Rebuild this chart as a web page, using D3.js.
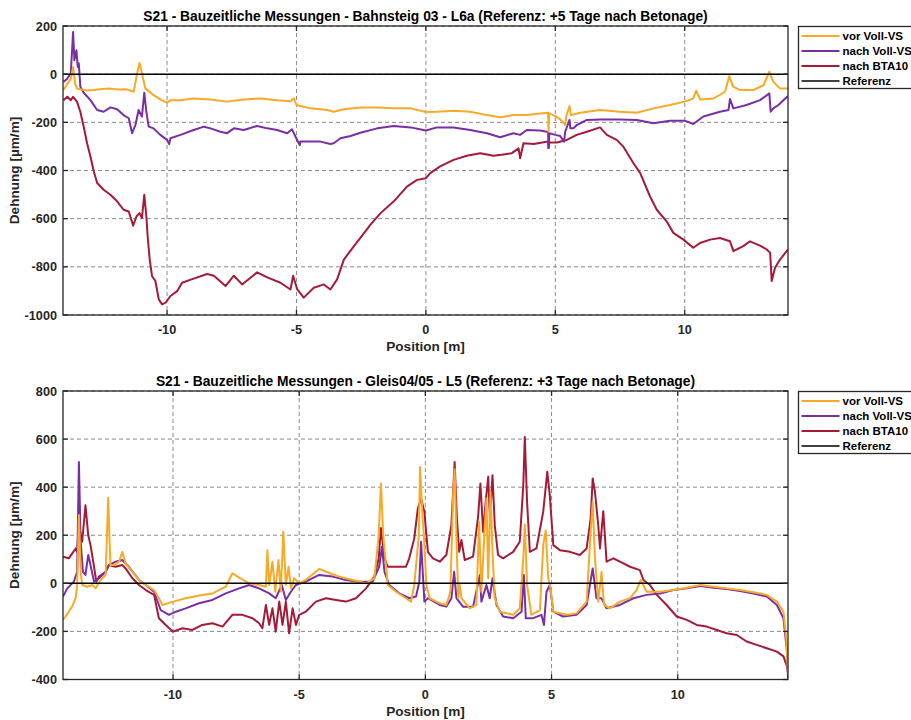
<!DOCTYPE html>
<html>
<head>
<meta charset="utf-8">
<script src="https://cdn.jsdelivr.net/npm/d3@7"></script>
<style>
  body { margin: 0; background: #fff; }
  svg { display: block; font-family: "Liberation Sans", Arial, Helvetica, sans-serif; }
  .tick-label { font-size: 12.7px; font-weight: bold; fill: #262626; }
  .ax-label { font-size: 13.6px; font-weight: bold; fill: #262626; }
  .title { font-size: 13.8px; font-weight: bold; fill: #000; }
  .legend-text { font-size: 11.5px; font-weight: bold; fill: #000; }
</style>
</head>
<body>
<script>
// legend names + colours
var seriesNames = ["vor Voll-VS", "nach Voll-VS", "nach BTA10", "Referenz"];
var seriesColors = ["#F8A926", "#7A2EA5", "#A51B37", "#000000"];

var titles = [
    "S21 - Bauzeitliche Messungen - Bahnsteig 03 - L6a (Referenz: +5 Tage nach Betonage)",
    "S21 - Bauzeitliche Messungen - Gleis04/05 - L5 (Referenz: +3 Tage nach Betonage)"
];

var xTicks = [-10, -5, 0, 5, 10];
var topYTicks = [-1000, -800, -600, -400, -200, 0, 200];
var bottomYTicks = [-400, -200, 0, 200, 400, 600, 800];
var topXDomain = [-14.02, 13.99];
var bottomXDomain = [-14.36, 14.37];

// ---- top panel (Bahnsteig 03 - L6a), [position m, strain µm/m]
var topVor = [[-14.0,-66],[-13.85,-39],[-13.72,-20],[-13.63,30],[-13.55,-40],[-13.48,-60],[-13.35,-63],[-13.1,-68],[-12.83,-66],[-12.5,-62],[-12.19,-60],[-11.9,-64],[-11.55,-63],[-11.29,-73],[-11.13,17],[-11.06,47],[-10.97,3],[-10.84,-59],[-10.52,-87],[-10.26,-105],[-10.0,-119],[-9.87,-108],[-9.48,-108],[-8.97,-101],[-8.32,-105],[-7.68,-114],[-7.04,-105],[-6.39,-101],[-5.75,-108],[-5.23,-112],[-5.1,-100],[-5.0,-128],[-4.85,-132],[-4.46,-142],[-3.81,-149],[-3.56,-156],[-3.17,-146],[-2.53,-138],[-1.88,-138],[-1.24,-142],[-0.59,-142],[0,-157],[0.42,-156],[1.07,-152],[1.71,-156],[2.36,-170],[2.87,-179],[3.38,-170],[3.9,-170],[4.41,-163],[4.72,-160],[4.74,-239],[4.76,-163],[5.0,-174],[5.19,-188],[5.38,-211],[5.42,-176],[5.55,-132],[5.6,-170],[5.96,-160],[6.73,-149],[7.5,-156],[8.15,-160],[8.79,-142],[9.43,-128],[10,-114],[10.33,-101],[10.44,-69],[10.6,-105],[11.11,-101],[11.56,-73],[11.72,-8],[11.87,-52],[12.14,-66],[12.65,-66],[13.04,-46],[13.27,10],[13.42,-32],[13.68,-59],[13.99,-59]];
var topNachVS = [[-14.0,-32],[-13.85,-18],[-13.72,3],[-13.63,175],[-13.58,58],[-13.5,99],[-13.45,30],[-13.41,44],[-13.35,-52],[-13.22,-77],[-12.96,-108],[-12.7,-149],[-12.45,-156],[-12.19,-138],[-11.93,-146],[-11.68,-170],[-11.48,-183],[-11.35,-245],[-11.22,-211],[-11.1,-149],[-10.97,-176],[-10.88,-77],[-10.8,-156],[-10.71,-218],[-10.52,-225],[-10.26,-252],[-10.0,-273],[-9.92,-290],[-9.87,-266],[-9.48,-252],[-8.97,-232],[-8.58,-218],[-8.32,-225],[-7.94,-239],[-7.68,-245],[-7.42,-225],[-7.04,-232],[-6.52,-215],[-6.13,-225],[-5.75,-232],[-5.36,-245],[-5.17,-229],[-5.04,-259],[-4.87,-295],[-4.85,-280],[-4.46,-280],[-4.07,-280],[-3.69,-290],[-3.56,-287],[-3.3,-266],[-2.91,-257],[-2.53,-243],[-1.88,-225],[-1.24,-215],[-0.59,-221],[0,-234],[0.42,-221],[1.07,-221],[1.71,-232],[2.36,-245],[2.87,-262],[3.38,-245],[3.64,-252],[3.9,-232],[4.41,-234],[4.72,-240],[4.74,-307],[4.77,-245],[5.0,-252],[5.19,-257],[5.34,-280],[5.38,-239],[5.55,-190],[5.58,-225],[5.7,-225],[5.83,-211],[6.22,-190],[6.73,-188],[7.5,-188],[8.15,-190],[8.79,-204],[9.43,-193],[10,-193],[10.33,-207],[10.72,-176],[11.36,-156],[11.69,-149],[11.75,-103],[11.88,-142],[12.39,-128],[12.91,-108],[13.27,-80],[13.32,-156],[13.42,-142],[13.62,-128],[13.81,-108],[13.99,-91]];
var topNachBTA = [[-14.0,-108],[-13.85,-94],[-13.72,-108],[-13.63,-94],[-13.48,-114],[-13.35,-156],[-13.22,-218],[-13.09,-287],[-12.96,-342],[-12.83,-404],[-12.7,-452],[-12.45,-480],[-12.19,-501],[-11.93,-528],[-11.68,-563],[-11.48,-570],[-11.31,-629],[-11.18,-590],[-11.06,-577],[-10.97,-597],[-10.88,-501],[-10.8,-590],[-10.75,-673],[-10.67,-770],[-10.58,-839],[-10.45,-859],[-10.32,-935],[-10.19,-956],[-10.06,-949],[-9.87,-921],[-9.61,-901],[-9.42,-866],[-8.97,-849],[-8.45,-830],[-8.19,-837],[-7.74,-880],[-7.42,-837],[-7.1,-873],[-6.52,-823],[-6.13,-844],[-5.62,-866],[-5.23,-894],[-5.13,-837],[-4.97,-894],[-4.72,-928],[-4.33,-887],[-3.94,-873],[-3.69,-894],[-3.43,-852],[-3.17,-770],[-2.78,-714],[-2.53,-680],[-2.14,-625],[-1.75,-577],[-1.24,-528],[-0.72,-466],[-0.34,-439],[0,-432],[0.17,-411],[0.55,-383],[1.07,-356],[1.58,-339],[2.1,-328],[2.61,-339],[2.93,-335],[3.32,-328],[3.58,-308],[3.64,-349],[3.77,-287],[4.16,-290],[4.72,-280],[4.74,-307],[4.77,-284],[5.06,-284],[5.44,-273],[5.83,-252],[6.22,-239],[6.73,-221],[6.99,-252],[7.37,-273],[7.63,-301],[8.02,-370],[8.28,-411],[8.66,-508],[8.92,-563],[9.3,-611],[9.56,-659],[9.95,-687],[10.33,-721],[10.59,-701],[10.98,-687],[11.36,-680],[11.75,-694],[11.88,-735],[12.26,-714],[12.52,-694],[12.91,-712],[13.17,-728],[13.3,-742],[13.36,-859],[13.49,-804],[13.68,-770],[13.99,-728]];

// ---- bottom panel (Gleis04/05 - L5)
var botVor = [[-14.36,-152],[-14.26,-138],[-14.0,-97],[-13.86,-62],[-13.8,-7],[-13.73,284],[-13.66,48],[-13.6,-7],[-13.4,-14],[-13.2,-7],[-13.07,-21],[-12.87,14],[-12.67,35],[-12.57,356],[-12.48,76],[-12.34,76],[-12.14,90],[-12.01,131],[-11.88,83],[-11.61,48],[-11.35,14],[-11.08,-7],[-10.75,-28],[-10.56,-62],[-10.42,-90],[-10.0,-76],[-9.5,-62],[-8.97,-51],[-8.44,-42],[-7.91,-14],[-7.65,42],[-7.38,24],[-6.98,0],[-6.59,-7],[-6.32,-14],[-6.26,138],[-6.19,-7],[-6.06,90],[-5.95,-35],[-5.82,97],[-5.73,-35],[-5.63,215],[-5.53,-7],[-5.42,69],[-5.33,-21],[-5.2,21],[-5.0,0],[-4.74,14],[-4.21,60],[-3.94,48],[-3.41,28],[-2.88,14],[-2.35,0],[-2.02,21],[-1.85,200],[-1.76,415],[-1.67,200],[-1.49,-7],[-1.16,-35],[-0.77,-62],[-0.57,-76],[-0.44,-7],[-0.26,200],[-0.21,484],[-0.11,270],[-0.06,200],[0.04,-7],[0.17,-62],[0.57,-83],[0.83,-90],[0.99,-35],[1.1,367],[1.16,475],[1.23,200],[1.3,-62],[1.36,-7],[1.43,-62],[1.76,-104],[2.02,-90],[2.13,256],[2.22,-35],[2.35,228],[2.42,353],[2.49,21],[2.58,380],[2.66,131],[2.75,-62],[2.95,-118],[3.48,-131],[3.74,-104],[3.88,104],[3.94,245],[4.03,-7],[4.2,-131],[4.54,-111],[4.67,159],[4.77,220],[4.87,21],[4.96,-21],[5.07,-118],[5.6,-131],[5.99,-125],[6.39,-76],[6.55,215],[6.63,339],[6.72,104],[6.85,-76],[6.98,48],[7.08,-90],[7.31,-104],[7.71,-76],[8.11,-62],[8.37,-28],[8.53,14],[8.77,-35],[9.3,-35],[9.83,-28],[10.36,-18],[10.89,-7],[11.42,-14],[11.94,-21],[12.47,-28],[13.0,-37],[13.53,-48],[13.93,-76],[14.19,-118],[14.3,-228],[14.37,-380]];
var botNachVS = [[-14.36,-55],[-14.19,-21],[-13.93,7],[-13.8,48],[-13.73,505],[-13.66,173],[-13.57,48],[-13.47,35],[-13.36,118],[-13.27,76],[-13.13,7],[-12.93,21],[-12.67,48],[-12.54,76],[-12.28,90],[-12.01,97],[-11.75,69],[-11.35,14],[-11.08,-7],[-10.75,-35],[-10.49,-111],[-10.16,-131],[-9.89,-118],[-9.5,-104],[-8.97,-83],[-8.44,-69],[-7.91,-42],[-7.38,-21],[-6.98,-7],[-6.59,-21],[-6.19,-42],[-5.93,-62],[-5.69,-7],[-5.53,-69],[-5.33,-35],[-5.13,-7],[-4.74,7],[-4.21,35],[-3.68,28],[-3.15,14],[-2.62,7],[-2.09,7],[-1.83,69],[-1.72,152],[-1.62,48],[-1.43,-7],[-1.03,-42],[-0.64,-62],[-0.37,-55],[-0.24,7],[-0.17,173],[-0.04,-76],[0.1,-62],[0.57,-90],[0.83,-97],[1.03,-62],[1.14,48],[1.23,-62],[1.49,-97],[1.89,-97],[2.16,35],[2.22,-76],[2.42,-7],[2.55,-62],[2.66,21],[2.82,-90],[3.08,-138],[3.48,-145],[3.81,-118],[3.9,35],[3.98,-145],[4.27,-145],[4.6,-131],[4.7,-173],[4.8,-35],[4.93,-7],[5.07,-118],[5.46,-138],[5.99,-131],[6.39,-90],[6.63,62],[6.78,-62],[6.98,-62],[7.18,-104],[7.71,-90],[8.24,-62],[8.77,-48],[9.3,-42],[9.83,-28],[10.36,-21],[10.89,-11],[11.42,-18],[11.94,-24],[12.47,-32],[13.0,-42],[13.53,-55],[13.93,-90],[14.19,-145],[14.33,-284],[14.37,-395]];
var botNachBTA = [[-14.36,111],[-14.13,104],[-13.86,145],[-13.8,131],[-13.73,242],[-13.6,173],[-13.47,325],[-13.36,200],[-13.27,159],[-13.14,76],[-13.04,7],[-12.93,28],[-12.67,48],[-12.54,76],[-12.28,69],[-12.01,76],[-11.88,62],[-11.61,21],[-11.35,-7],[-11.08,-28],[-10.75,-48],[-10.56,-145],[-10.29,-173],[-10.0,-201],[-9.63,-187],[-9.23,-194],[-8.84,-173],[-8.44,-166],[-8.04,-180],[-7.65,-131],[-7.25,-131],[-6.85,-145],[-6.59,-166],[-6.46,-187],[-6.32,-90],[-6.19,-173],[-6.06,-104],[-5.93,-201],[-5.79,-76],[-5.66,-173],[-5.53,-76],[-5.4,-208],[-5.26,-104],[-5.13,-173],[-5.0,-131],[-4.74,-118],[-4.34,-76],[-3.94,-62],[-3.54,-69],[-3.15,-76],[-2.75,-62],[-2.35,-21],[-2.02,28],[-1.85,104],[-1.76,230],[-1.62,104],[-1.49,69],[-1.16,69],[-0.77,69],[-0.64,104],[-0.44,187],[-0.3,311],[-0.17,353],[-0.04,298],[0.1,131],[0.3,104],[0.57,90],[0.83,118],[1.03,242],[1.16,505],[1.25,270],[1.34,131],[1.43,180],[1.56,97],[1.89,111],[2.09,277],[2.18,415],[2.29,214],[2.39,339],[2.49,443],[2.56,270],[2.66,450],[2.75,242],[2.88,118],[3.08,104],[3.48,131],[3.74,173],[3.88,408],[3.94,609],[4.03,339],[4.14,131],[4.4,145],[4.67,298],[4.83,464],[4.93,367],[5.07,159],[5.33,138],[5.73,131],[6.12,118],[6.39,145],[6.55,270],[6.63,436],[6.72,381],[6.85,242],[6.92,145],[7.05,300],[7.18,90],[7.45,104],[7.71,90],[8.11,69],[8.5,55],[8.64,14],[8.9,-7],[9.17,-48],[9.56,-90],[9.96,-138],[10.36,-152],[10.75,-173],[11.15,-180],[11.55,-194],[11.94,-208],[12.34,-215],[12.73,-242],[13.13,-256],[13.53,-270],[13.93,-284],[14.19,-304],[14.33,-346],[14.37,-370]];

var W = 911, H = 720;
var svg = d3.select("body").append("svg")
    .attr("width", W)
    .attr("height", H);

var panels = [
    { top: 26, bottom: 315, left: 63, right: 788, xDomain: topXDomain, yDomain: [-1000, 200], yTicks: topYTicks,
      title: titles[0], series: [topVor, topNachVS, topNachBTA], id: "a" },
    { top: 391, bottom: 679.5, left: 63, right: 788, xDomain: bottomXDomain, yDomain: [-400, 800], yTicks: bottomYTicks,
      title: titles[1], series: [botVor, botNachVS, botNachBTA], id: "b" }
];

panels.forEach(function(p) {
    var x = d3.scaleLinear().domain(p.xDomain).range([p.left, p.right]);
    var y = d3.scaleLinear().domain(p.yDomain).range([p.bottom, p.top]);
    var g = svg.append("g");

    // grid (dashed)
    g.selectAll(".vgrid").data(xTicks).enter().append("line")
        .attr("x1", function(d) { return x(d); }).attr("x2", function(d) { return x(d); })
        .attr("y1", p.top).attr("y2", p.bottom)
        .attr("stroke", "#8a8a8a").attr("stroke-width", 1).attr("stroke-dasharray", "4,3");
    g.selectAll(".hgrid").data(p.yTicks).enter().append("line")
        .attr("x1", p.left).attr("x2", p.right)
        .attr("y1", function(d) { return y(d); }).attr("y2", function(d) { return y(d); })
        .attr("stroke", "#8a8a8a").attr("stroke-width", 1).attr("stroke-dasharray", "4,3");

    // lines
    g.append("clipPath").attr("id", "clip" + p.id).append("rect")
        .attr("x", p.left).attr("y", p.top)
        .attr("width", p.right - p.left).attr("height", p.bottom - p.top);

    var line = d3.line()
        .x(function(d) { return x(d[0]); })
        .y(function(d) { return y(d[1]); });

    var plot = g.append("g").attr("clip-path", "url(#clip" + p.id + ")");
    // drawn back to front: BTA10, nach Voll-VS, vor Voll-VS
    [2, 1, 0].forEach(function(i) {
        plot.append("path")
            .datum(p.series[i])
            .attr("fill", "none")
            .attr("stroke", seriesColors[i])
            .attr("stroke-width", 2)
            .attr("stroke-linejoin", "round")
            .attr("d", line);
    });
    // Referenz (zero line)
    plot.append("path")
        .datum([[p.xDomain[0], 0], [p.xDomain[1], 0]])
        .attr("fill", "none").attr("stroke", "#000").attr("stroke-width", 1.5)
        .attr("d", line);

    // box + inner ticks on all four sides
    g.append("rect")
        .attr("x", p.left).attr("y", p.top)
        .attr("width", p.right - p.left).attr("height", p.bottom - p.top)
        .attr("fill", "none").attr("stroke", "#262626").attr("stroke-width", 1.3);

    var tk = 5;
    xTicks.forEach(function(d) {
        g.append("line").attr("x1", x(d)).attr("x2", x(d)).attr("y1", p.bottom).attr("y2", p.bottom - tk)
            .attr("stroke", "#262626").attr("stroke-width", 1.3);
        g.append("line").attr("x1", x(d)).attr("x2", x(d)).attr("y1", p.top).attr("y2", p.top + tk)
            .attr("stroke", "#262626").attr("stroke-width", 1.3);
    });
    p.yTicks.forEach(function(d) {
        g.append("line").attr("x1", p.left).attr("x2", p.left + tk).attr("y1", y(d)).attr("y2", y(d))
            .attr("stroke", "#262626").attr("stroke-width", 1.3);
        g.append("line").attr("x1", p.right).attr("x2", p.right - tk).attr("y1", y(d)).attr("y2", y(d))
            .attr("stroke", "#262626").attr("stroke-width", 1.3);
    });

    // tick labels
    g.selectAll(".xl").data(xTicks).enter().append("text")
        .attr("class", "tick-label")
        .attr("x", function(d) { return x(d); })
        .attr("y", p.bottom + 19)
        .attr("text-anchor", "middle")
        .text(function(d) { return d; });
    g.selectAll(".yl").data(p.yTicks).enter().append("text")
        .attr("class", "tick-label")
        .attr("x", p.left - 6)
        .attr("y", function(d) { return y(d) + 4.5; })
        .attr("text-anchor", "end")
        .text(function(d) { return d; });

    // axis labels + title
    g.append("text").attr("class", "ax-label")
        .attr("x", (p.left + p.right) / 2).attr("y", p.bottom + 36)
        .attr("text-anchor", "middle").text("Position [m]");
    g.append("text").attr("class", "ax-label")
        .attr("transform", "translate(19," + ((p.top + p.bottom) / 2) + ") rotate(-90)")
        .attr("text-anchor", "middle").text("Dehnung [µm/m]");
    g.append("text").attr("class", "title")
        .attr("x", (p.left + p.right) / 2).attr("y", p.top - 5)
        .attr("text-anchor", "middle").text(p.title);

    // legend
    var lg = g.append("g").attr("transform", "translate(798.5," + (p.top + 0.5) + ")");
    lg.append("rect").attr("width", 118).attr("height", 62)
        .attr("fill", "#fff").attr("stroke", "#262626").attr("stroke-width", 1.3);
    seriesNames.forEach(function(name, i) {
        var ly = 9.5 + i * 15;
        lg.append("line").attr("x1", 3).attr("x2", 41).attr("y1", ly).attr("y2", ly)
            .attr("stroke", seriesColors[i]).attr("stroke-width", i === 3 ? 1.5 : 2);
        lg.append("text").attr("class", "legend-text")
            .attr("x", 44).attr("y", ly + 4).text(name);
    });
});
</script>
</body>
</html>
